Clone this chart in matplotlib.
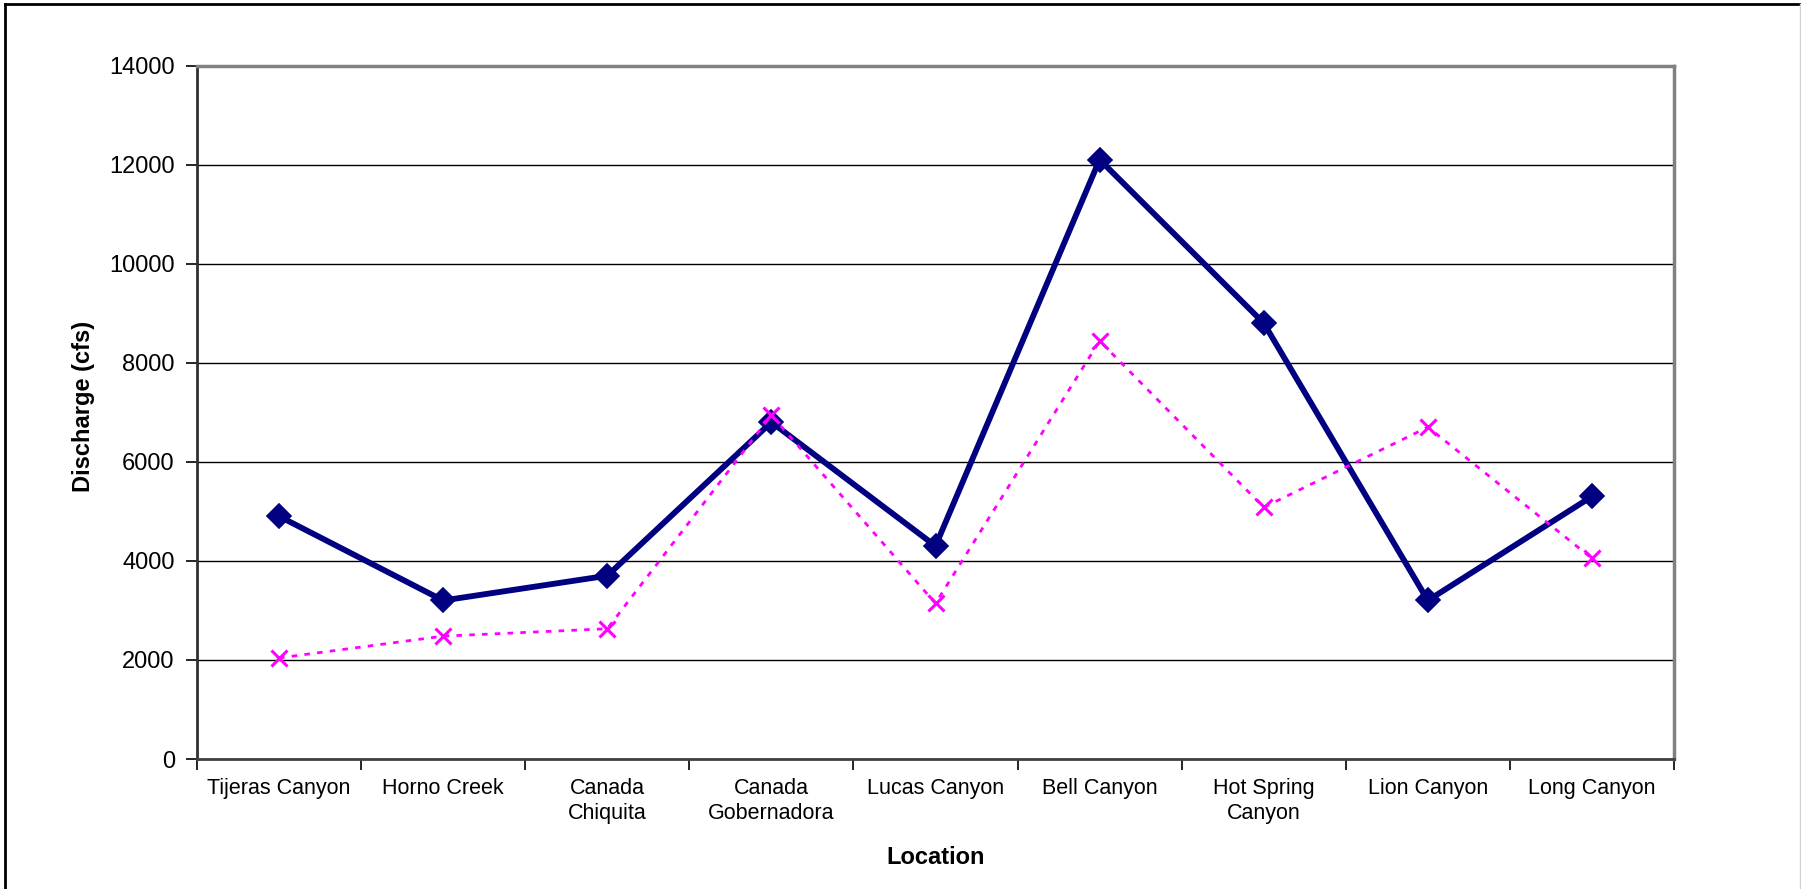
"""Peak discharge by location, two series, Excel-style line chart."""

import matplotlib

matplotlib.use("Agg")
import matplotlib.pyplot as plt
from matplotlib.lines import Line2D
from matplotlib.ticker import FixedLocator, NullFormatter

LOCATIONS = [
    "Tijeras Canyon",
    "Horno Creek",
    "Canada\nChiquita",
    "Canada\nGobernadora",
    "Lucas Canyon",
    "Bell Canyon",
    "Hot Spring\nCanyon",
    "Lion Canyon",
    "Long Canyon",
]

SERIES_A = [4900, 3200, 3700, 6800, 4300, 12100, 8800, 3200, 5300]
SERIES_B = [2040, 2480, 2630, 6940, 3140, 8440, 5080, 6700, 4050]

Y_TICKS = [0, 2000, 4000, 6000, 8000, 10000, 12000, 14000]

W, H = 1801, 889


def main() -> None:
    plt.rcParams["font.family"] = ["Liberation Sans", "DejaVu Sans"]

    fig = plt.figure(figsize=(W / 100, H / 100), dpi=100)
    ax = fig.add_axes([197 / W, 1 - 759 / H, (1674 - 197) / W, (759 - 65.5) / H])

    x = list(range(len(LOCATIONS)))

    ax.plot(x, SERIES_A, color="#000080", linewidth=4.2, marker="D",
            markersize=12.5, markeredgewidth=1.2, solid_joinstyle="miter", zorder=3)
    ax.plot(x, SERIES_B, color="#FF00FF", linewidth=2.0, linestyle=(0, (2.0, 2.6)),
            marker="x", markersize=12, markeredgewidth=2.2, zorder=4)

    ax.set_xlim(-0.5, len(LOCATIONS) - 0.5)
    ax.set_ylim(0, 14000)

    # category labels centred, tick marks on the boundaries
    ax.xaxis.set_major_locator(FixedLocator([i - 0.5 for i in range(len(LOCATIONS) + 1)]))
    ax.xaxis.set_major_formatter(NullFormatter())
    ax.xaxis.set_minor_locator(FixedLocator(x))
    ax.set_xticklabels(LOCATIONS, minor=True, fontsize=15.5)
    ax.tick_params(axis="x", which="major", direction="out", length=8, width=1.2, color="black")
    ax.tick_params(axis="x", which="minor", length=0, pad=14)

    ax.set_yticks(Y_TICKS)
    ax.set_yticklabels([str(v) for v in Y_TICKS], fontsize=17)
    ax.tick_params(axis="y", direction="out", length=8, width=1.2, pad=8, color="black")

    ax.grid(axis="y", color="black", linewidth=1.0, zorder=0)
    ax.set_axisbelow(True)

    ax.spines["left"].set_color("#303030")
    ax.spines["left"].set_linewidth(2)
    ax.spines["bottom"].set_color("#404040")
    ax.spines["bottom"].set_linewidth(2)
    ax.spines["top"].set_color("#808080")
    ax.spines["top"].set_linewidth(2.5)
    ax.spines["right"].set_color("#808080")
    ax.spines["right"].set_linewidth(2.5)

    fig.text(83 / W, 1 - 406 / H, "Discharge (cfs)", rotation=90, fontsize=17,
             fontweight="bold", ha="center", va="center")
    fig.text((197 + 1674) / 2 / W, 1 - 857 / H, "Location", fontsize=17,
             fontweight="bold", ha="center", va="center")

    # chart area border
    fig.add_artist(Line2D([5 / W, 5 / W], [0, 1 - 4 / H], color="black", linewidth=2))
    fig.add_artist(Line2D([5 / W, 1], [1 - 4 / H, 1 - 4 / H], color="black", linewidth=2))
    fig.add_artist(Line2D([1 - 1 / W, 1 - 1 / W], [0, 1 - 4 / H], color="#d0d0d0", linewidth=1))

    fig.savefig("out.png", dpi=100)
    plt.close(fig)


if __name__ == "__main__":
    main()
